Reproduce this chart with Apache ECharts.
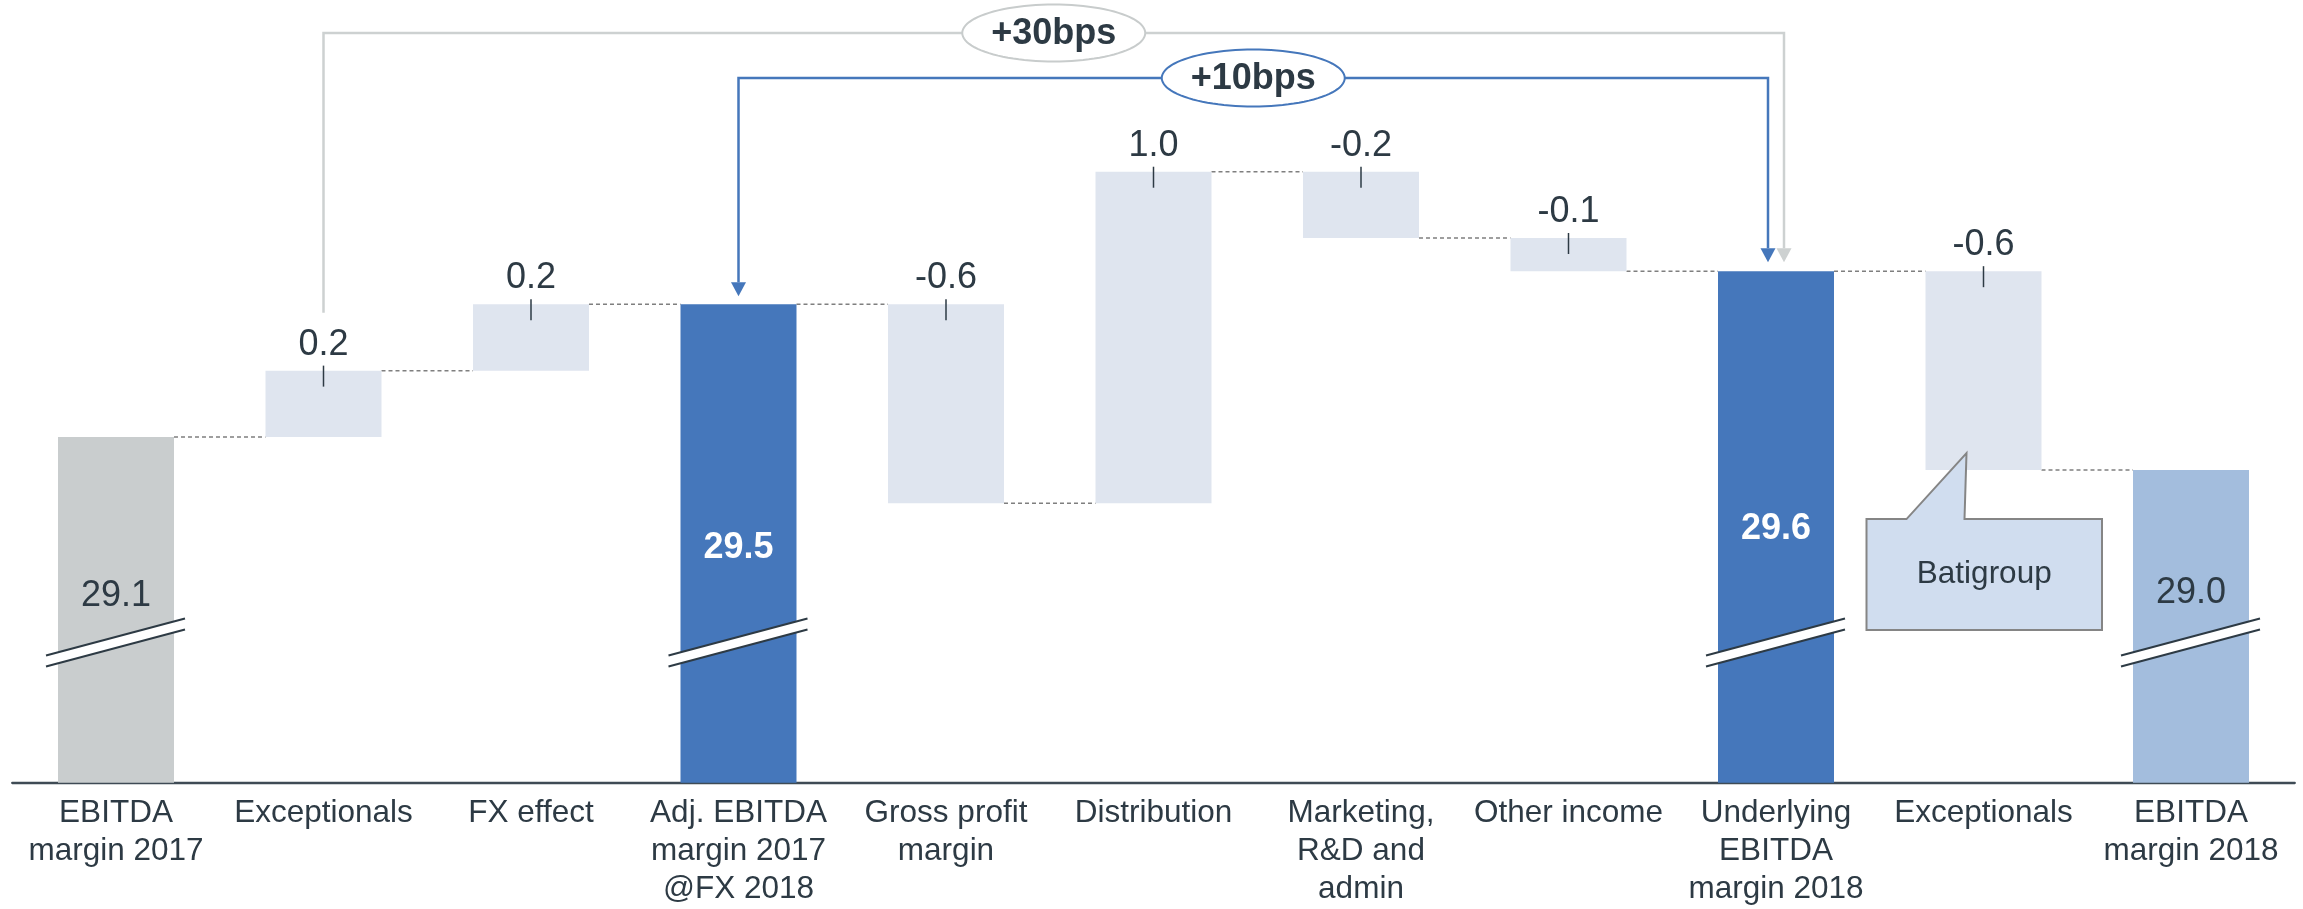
<!DOCTYPE html>
<html>
<head>
<meta charset="utf-8">
<title>EBITDA margin bridge 2017-2018</title>
<script src="https://cdn.jsdelivr.net/npm/echarts@6/dist/echarts.min.js"></script>
<style>
  html, body { margin: 0; padding: 0; background: #fff; }
  #chart { width: 2303px; height: 909px; }
</style>
</head>
<body>
<div id="chart"></div>
<script>
// x axis categories
const categories = [
  'EBITDA\nmargin 2017',
  'Exceptionals',
  'FX effect',
  'Adj. EBITDA\nmargin 2017\n@FX 2018',
  'Gross profit\nmargin',
  'Distribution',
  'Marketing,\nR&D and\nadmin',
  'Other income',
  'Underlying\nEBITDA\nmargin 2018',
  'Exceptionals',
  'EBITDA\nmargin 2018'
];
// totals are margins (%), the rest are changes (pp)
const values = [29.1, 0.2, 0.2, 29.5, -0.6, 1.0, -0.2, -0.1, 29.6, -0.6, 29.0];
const isTotal = [true, false, false, true, false, false, false, false, true, false, true];
const valueLabels = ['29.1', '0.2', '0.2', '29.5', '-0.6', '1.0', '-0.2', '-0.1', '29.6', '-0.6', '29.0'];

// bps brackets: from category -> to category
const bracketText = ['+30bps', '+10bps'];
const bracketFrom = [1, 3];
const bracketTo = [8, 8];

// callout on the second "Exceptionals" bar
const calloutText = 'Batigroup';
const calloutIndex = 9;

// axis is broken, so it does not start at 0
const Y_MIN = 28.057;
const Y_MAX = 30.418;
const BREAK_AT = 28.48;

const FONT = '"Liberation Sans", Arial, sans-serif';
const TEXT = '#2d3a44';
const GREY = '#c9cdce';
const BLUE = '#4577bb';
const LIGHT = '#dfe5ef';
const PALE = '#a3bddd';

const totalColor = { 0: GREY, 3: BLUE, 8: BLUE, 10: PALE };
const totalLabelWhite = { 3: true, 8: true };
// label height above the axis for the total bars (px)
const totalLabelLift = { 0: 187, 3: 235, 8: 254, 10: 190 };

// build waterfall boxes and the running level after each bar
let level = 0;
const levels = [];
const bars = values.map((v, i) => {
  let lo, hi;
  if (isTotal[i]) {
    lo = Y_MIN; hi = v; level = v;
  } else {
    const next = Math.round((level + v) * 100) / 100;
    lo = Math.min(level, next); hi = Math.max(level, next); level = next;
  }
  levels.push(level);
  return [i, lo, hi];
});
const connectors = levels.slice(0, -1).map((l, i) => [i, l]);
const brackets = bracketFrom.map((f, k) => [f, bracketTo[k]]);

const BAR_RATIO = 0.559;

function renderBar(params, api) {
  const i = api.value(0);
  const lo = api.value(1);
  const hi = api.value(2);
  const band = api.size([1, 0])[0];
  const w = band * BAR_RATIO;
  const top = api.coord([i, hi]);
  const bot = api.coord([i, lo]);
  const cx = top[0];
  const kids = [{
    type: 'rect',
    shape: { x: cx - w / 2, y: top[1], width: w, height: bot[1] - top[1] },
    style: { fill: isTotal[i] ? totalColor[i] : LIGHT }
  }];
  if (isTotal[i]) {
    const yb = api.coord([i, BREAK_AT])[1];
    kids.push({
      type: 'polygon',
      shape: { points: [[cx - 70, yb + 13], [cx + 69, yb - 24], [cx + 69, yb - 13], [cx - 70, yb + 24]] },
      style: { fill: '#fff' }
    });
    kids.push({ type: 'line', shape: { x1: cx - 70, y1: yb + 13, x2: cx + 69, y2: yb - 24 }, style: { stroke: TEXT, lineWidth: 2 } });
    kids.push({ type: 'line', shape: { x1: cx - 70, y1: yb + 24, x2: cx + 69, y2: yb - 13 }, style: { stroke: TEXT, lineWidth: 2 } });
    const white = totalLabelWhite[i];
    kids.push({
      type: 'text', x: cx, y: bot[1] - totalLabelLift[i],
      style: {
        text: valueLabels[i], fill: white ? '#fff' : TEXT, fontSize: 36,
        fontWeight: white ? 'bold' : 'normal', fontFamily: FONT,
        align: 'center', verticalAlign: 'middle'
      }
    });
  } else {
    kids.push({ type: 'line', shape: { x1: cx, y1: top[1] - 5, x2: cx, y2: top[1] + 16 }, style: { stroke: TEXT, lineWidth: 1.5 } });
    kids.push({
      type: 'text', x: cx, y: top[1] - 26,
      style: { text: valueLabels[i], fill: TEXT, fontSize: 36, fontFamily: FONT, align: 'center', verticalAlign: 'middle' }
    });
  }
  return { type: 'group', children: kids };
}

function renderConnector(params, api) {
  const i = api.value(0);
  const l = api.value(1);
  const w = api.size([1, 0])[0] * BAR_RATIO;
  const a = api.coord([i, l]);
  const b = api.coord([i + 1, l]);
  return {
    type: 'line',
    shape: { x1: a[0] + w / 2, y1: a[1], x2: b[0] - w / 2, y2: b[1] },
    style: { stroke: '#7f7f7f', lineWidth: 1.5, lineDash: [4, 3] }
  };
}

function ellipsePoints(cx, cy, rx, ry) {
  const pts = [];
  for (let k = 0; k < 96; k++) {
    const t = k / 96 * Math.PI * 2;
    pts.push([cx + rx * Math.cos(t), cy + ry * Math.sin(t)]);
  }
  return pts;
}

function arrowHead(x, tip, color) {
  return { type: 'polygon', shape: { points: [[x - 7.5, tip - 14], [x + 7.5, tip - 14], [x, tip]] }, style: { fill: color } };
}

// bracket look: colour, height from top, shift of right leg, arrow on left leg
const bracketStyle = [
  { color: '#cdd1d1', ring: '#c8cccc', top: 33, shift: 8, leftArrow: false },
  { color: BLUE, ring: BLUE, top: 78, shift: -8, leftArrow: true }
];

function renderBracket(params, api) {
  const k = params.dataIndex;
  const st = bracketStyle[k];
  const from = api.value(0);
  const to = api.value(1);
  const yTop = api.coord([0, Y_MAX])[1] + st.top;
  const fTop = api.coord([from, bars[from][2]]);
  const tTop = api.coord([to, bars[to][2]]);
  const x1 = fTop[0];
  const x2 = tTop[0] + st.shift;
  const tipR = tTop[1] - 9;
  const kids = [];
  let y1;
  if (st.leftArrow) {
    const tipL = fTop[1] - 8;
    y1 = tipL - 14;
    kids.push(arrowHead(x1, tipL, st.color));
  } else {
    y1 = fTop[1] - 58;
  }
  kids.unshift({
    type: 'polyline',
    shape: { points: [[x1, y1], [x1, yTop], [x2, yTop], [x2, tipR - 14]] },
    style: { stroke: st.color, lineWidth: 2.5, fill: null, lineJoin: 'miter' }
  });
  kids.push(arrowHead(x2, tipR, st.color));
  const mx = (x1 + x2) / 2;
  kids.push({
    type: 'polygon', shape: { points: ellipsePoints(mx, yTop, 91.5, 28.5) },
    style: { fill: '#fff', stroke: st.ring, lineWidth: 2 }
  });
  kids.push({
    type: 'text', x: mx, y: yTop + 1,
    style: { text: bracketText[k], fill: TEXT, fontSize: 36, fontWeight: 'bold', fontFamily: FONT, align: 'center', verticalAlign: 'middle' }
  });
  return { type: 'group', children: kids };
}

function renderCallout(params, api) {
  const i = api.value(0);
  const p = api.coord([i, bars[i][1]]);
  const cx = p[0];
  const yb = p[1];
  const L = cx - 117, R = cx + 118.5, T = yb + 49, B = yb + 160;
  return {
    type: 'group',
    children: [{
      type: 'polygon',
      shape: { points: [[L, T], [cx - 77, T], [cx - 17, yb - 17], [cx - 19, T], [R, T], [R, B], [L, B]] },
      style: { fill: '#d0ddef', stroke: '#858585', lineWidth: 2, lineJoin: 'miter' }
    }, {
      type: 'text', x: (L + R) / 2, y: (T + B) / 2,
      style: { text: calloutText, fill: TEXT, fontSize: 31.5, fontFamily: FONT, align: 'center', verticalAlign: 'middle' }
    }]
  };
}

const chart = echarts.init(document.getElementById('chart'));
chart.setOption({
  animation: false,
  grid: { left: 12.25, right: 8.25, top: 0, bottom: 126.3, containLabel: false },
  xAxis: {
    type: 'category',
    data: categories,
    axisTick: { show: false },
    axisLine: { show: true, onZero: false, lineStyle: { color: '#3f4b55', width: 2.3 } },
    axisLabel: { interval: 0, fontSize: 31.5, lineHeight: 38, color: TEXT, fontFamily: FONT, margin: 12 },
    splitLine: { show: false }
  },
  yAxis: { type: 'value', min: Y_MIN, max: Y_MAX, show: false, splitLine: { show: false } },
  series: [
    { type: 'custom', name: 'connectors', data: connectors, renderItem: renderConnector, encode: { x: 0, y: 1 }, z: 1, silent: true },
    { type: 'custom', name: 'bars', data: bars, renderItem: renderBar, encode: { x: 0, y: [1, 2] }, z: 2, silent: true },
    { type: 'custom', name: 'brackets', data: brackets, renderItem: renderBracket, encode: { x: 0 }, z: 3, silent: true },
    { type: 'custom', name: 'callout', data: [[calloutIndex]], renderItem: renderCallout, encode: { x: 0 }, z: 4, silent: true }
  ]
});
window.addEventListener('resize', () => chart.resize());
</script>
</body>
</html>
